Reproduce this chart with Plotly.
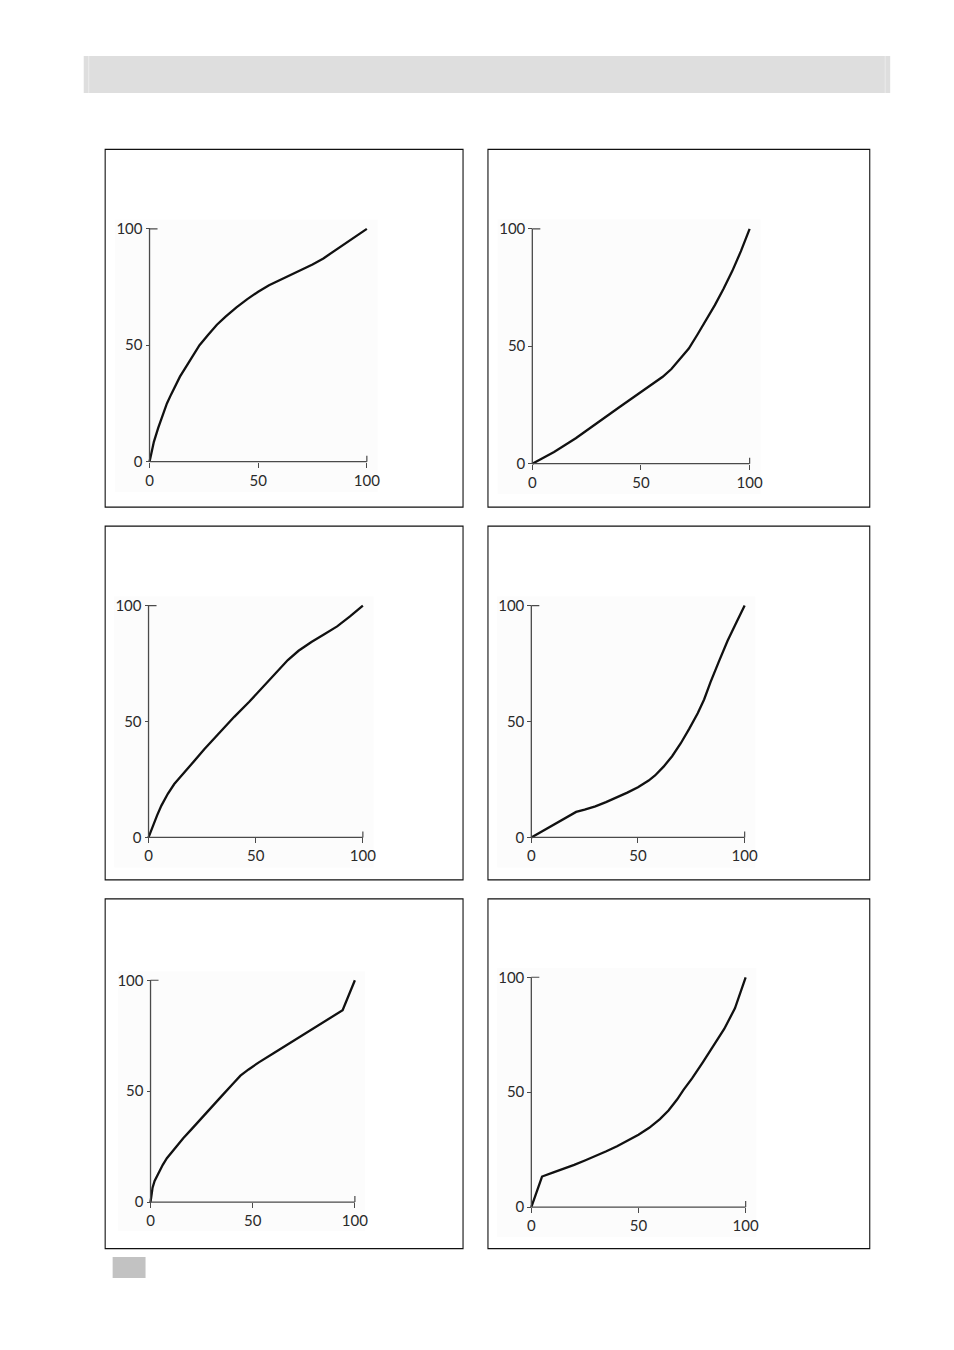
import plotly.graph_objects as go

W, H = 954, 1350

# ---- data (x = input %, y = output %) ----
p1_x = [0, 1, 2, 4, 6, 8, 10, 14, 18, 23, 27, 31, 35, 40, 45, 50, 55, 60, 65, 70, 75, 80, 85, 90, 95, 100]
p1_y = [0, 5, 8.5, 14.5, 20, 25, 29, 36.5, 42.5, 50, 54.5, 58.8, 62.3, 66.3, 69.8, 73, 75.8, 78, 80.3, 82.5, 84.7, 87.3, 90.5, 93.7, 96.8, 100]

p2_x = [0, 10, 20, 30, 40, 50, 60, 64, 68, 72, 76, 80, 84, 88, 92, 96, 100]
p2_y = [0, 5, 10.8, 17.5, 24, 30.5, 37, 40.3, 44.5, 49, 55, 61, 67.5, 74.5, 82, 90.5, 100]

p3_x = [0, 2, 4, 6, 9, 12, 16, 20, 26, 33, 40, 47, 54, 60, 65, 70, 76, 82, 88, 94, 100]
p3_y = [0, 5, 9.5, 13.7, 18.8, 23, 27.5, 31.5, 38, 45, 52, 58.5, 65.5, 71.5, 76.5, 80.5, 84.3, 87.6, 91, 95.3, 100]

p4_x = [0, 21, 25, 30, 35, 40, 45, 50, 55, 58, 62, 66, 70, 74, 78, 81, 84, 88, 92, 96, 100]
p4_y = [0, 11, 12, 13.4, 15.2, 17.2, 19.3, 21.6, 24.5, 26.7, 30.5, 35, 40.5, 46.8, 53.5, 59.5, 67, 76, 84.8, 92.5, 100]

p5_x = [0, 1, 2, 4, 6, 8, 12, 16, 20, 25, 30, 35, 40, 44, 48, 53, 60, 66, 73, 80, 87, 94, 100]
p5_y = [0, 6.5, 9.5, 13.5, 16.8, 19.8, 24.5, 28.8, 32.8, 38, 43, 48, 53, 57, 59.8, 63, 67, 70.5, 74.5, 78.5, 82.5, 86.5, 100]

p6_x = [0, 5, 10, 15, 20, 25, 30, 35, 40, 45, 50, 55, 60, 64, 68, 71, 75, 80, 85, 90, 95, 100]
p6_y = [0, 13.3, 15, 16.6, 18.4, 20.3, 22.2, 24.3, 26.5, 29, 31.5, 34.5, 38.3, 42, 46.8, 51, 56, 63, 70, 77.5, 86.5, 100]

tick_vals = [0, 50, 100]
tick_text = ["0", "50", "100"]

series = [(p1_x, p1_y), (p2_x, p2_y), (p3_x, p3_y), (p4_x, p4_y), (p5_x, p5_y), (p6_x, p6_y)]

# ---- layout geometry (pixels) ----
# origin x, origin y, x=100 px, y=100 px
geom = [
    (150, 461, 368, 228),
    (534, 463, 752, 228),
    (149, 837, 364, 605),
    (533, 837, 747, 605),
    (151, 1202, 356, 980),
    (533, 1207, 748, 977),
]
boxes = [
    (105.5, 148.5, 464.5, 506.5),
    (489.5, 148.5, 872.5, 506.5),
    (105.5, 525.5, 464.5, 879.5),
    (489.5, 525.5, 872.5, 879.5),
    (105.5, 898.5, 464.5, 1248.5),
    (489.5, 898.5, 872.5, 1248.5),
]
XR = [-16, 105]
YR = [-13, 104]

AX = "#4a4a4a"
fig = go.Figure()
layout = dict(
    width=W, height=H, margin=dict(l=0, r=0, t=0, b=0),
    paper_bgcolor="white", plot_bgcolor="#fcfcfc", showlegend=False,
    font=dict(family="Lato, 'Open Sans', sans-serif", size=15, color="#2a2a2a"),
)
shapes = []

for i, ((xs, ys), (ox, oy, x100, y100)) in enumerate(zip(series, geom)):
    n = i + 1
    xn = "x" if n == 1 else f"x{n}"
    yn = "y" if n == 1 else f"y{n}"
    sx = (x100 - ox) / 100.0
    sy = (oy - y100) / 100.0
    xd = [(ox + XR[0] * sx) / W, (ox + XR[1] * sx) / W]
    yd = [1 - (oy - YR[0] * sy) / H, 1 - (oy - YR[1] * sy) / H]
    common = dict(showgrid=False, zeroline=False, showline=False,
                  tickmode="array", tickvals=tick_vals, ticktext=tick_text,
                  ticks="outside", ticklen=5, tickwidth=1.2, tickcolor=AX,
                  fixedrange=True)
    layout["xaxis" if n == 1 else f"xaxis{n}"] = dict(
        common, domain=xd, range=XR, anchor="free", position=1 - oy / H)
    layout["yaxis" if n == 1 else f"yaxis{n}"] = dict(
        common, domain=yd, range=YR, anchor="free", position=ox / W, ticklen=4)

    fig.add_trace(go.Scatter(x=xs, y=ys, xaxis=xn, yaxis=yn, mode="lines",
                             line=dict(color="#111", width=2.3), hoverinfo="skip"))

    # axis lines
    shapes.append(dict(type="line", xref=xn, yref=yn, x0=0, y0=0, x1=100, y1=0,
                       line=dict(color=AX, width=1.3)))
    shapes.append(dict(type="line", xref=xn, yref=yn, x0=0, y0=0, x1=0, y1=100,
                       line=dict(color=AX, width=1.3)))
    # upward part of x=100 tick
    shapes.append(dict(type="line", xref=xn, yref=yn, ysizemode="pixel", yanchor=0,
                       x0=100, x1=100, y0=0, y1=6, line=dict(color=AX, width=1.2)))
    # rightward part of y=100 tick
    shapes.append(dict(type="line", xref=xn, yref=yn, xsizemode="pixel", xanchor=0,
                       x0=0, x1=8, y0=100, y1=100, line=dict(color=AX, width=1.2)))

# panel boxes
for (x0, y0, x1, y1) in boxes:
    shapes.append(dict(type="rect", xref="paper", yref="paper",
                       x0=x0 / W, x1=x1 / W, y0=1 - y1 / H, y1=1 - y0 / H,
                       line=dict(color="#111", width=1.1), fillcolor="rgba(0,0,0,0)"))

# header bar
shapes.append(dict(type="rect", xref="paper", yref="paper", x0=84 / W, x1=893 / W,
                   y0=1 - 92 / H, y1=1 - 55 / H, line=dict(width=0), fillcolor="#dedede"))
for xv in (89, 888):
    shapes.append(dict(type="line", xref="paper", yref="paper", x0=xv / W, x1=xv / W,
                       y0=1 - 92 / H, y1=1 - 55 / H, line=dict(color="#ececec", width=1)))
# small grey square at bottom
shapes.append(dict(type="rect", xref="paper", yref="paper", x0=113 / W, x1=146 / W,
                   y0=1 - 1278 / H, y1=1 - 1257 / H, line=dict(width=0), fillcolor="#c2c2c2"))

layout["shapes"] = shapes
fig.update_layout(**layout)
fig.write_html("out.html")
